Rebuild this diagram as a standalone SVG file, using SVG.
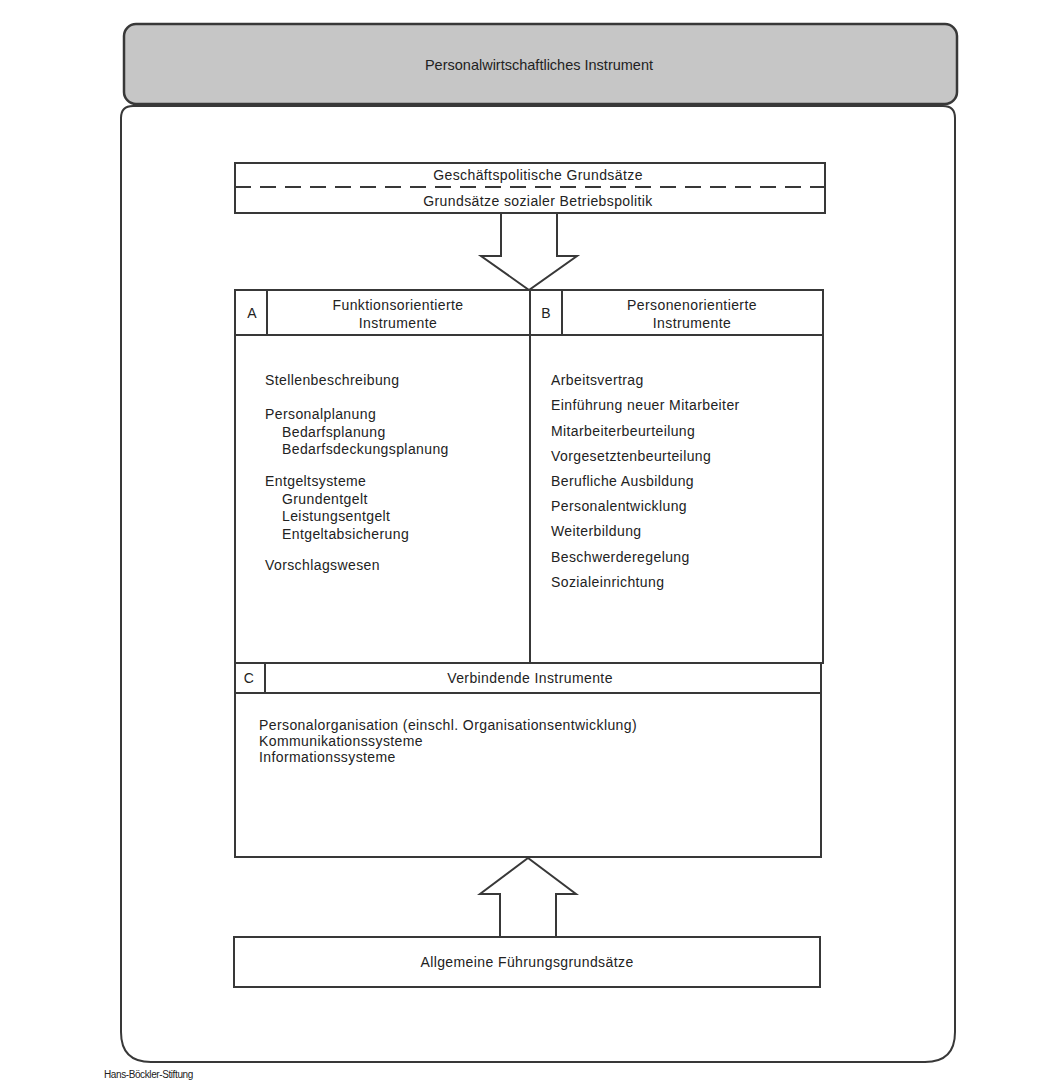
<svg xmlns="http://www.w3.org/2000/svg" width="1054" height="1088" viewBox="0 0 1054 1088">
<style>
.ln{fill:none;stroke:#383838;stroke-width:2}
.bx{fill:#fff;stroke:#383838;stroke-width:2}
.t{font-family:"Liberation Sans",Arial,sans-serif;font-size:14px;fill:#222;letter-spacing:0.4px}
.c{text-anchor:middle}
.h{font-family:"Liberation Sans",Arial,sans-serif;font-size:14.5px;fill:#222;text-anchor:middle}
.f{font-family:"Liberation Sans",Arial,sans-serif;font-size:10px;fill:#222;letter-spacing:-0.4px}
</style>
<rect width="1054" height="1088" fill="#fff"/>
<g id="header">
<rect x="124" y="24" width="833" height="80" rx="12" fill="#c6c6c6" stroke="#383838" stroke-width="2.5"/>
<text class="h" x="539" y="70">Personalwirtschaftliches Instrument</text>
</g>
<g id="frame">
<path d="M121,1032 L121,118 Q121,106 133,106 L943,106 Q955,106 955,118 L955,1032 Q955,1062 925,1062 L151,1062 Q121,1062 121,1032 Z" class="ln" stroke-width="2.5"/>
</g>
<g id="grundsaetze">
<rect x="235" y="163" width="590" height="50" class="bx"/>
<line x1="235" y1="187" x2="825" y2="187" class="ln" stroke-dasharray="16,9"/>
<text class="t c" x="538" y="180">Geschäftspolitische Grundsätze</text>
<text class="t c" x="538" y="206">Grundsätze sozialer Betriebspolitik</text>
</g>
<g id="connectors">
<path d="M501,213 L501,256 L481,256 L529,290 L577,256 L557,256 L557,213" class="ln"/>
<path d="M500,937 L500,894 L480,894 L528,858 L576,894 L556,894 L556,937" class="ln"/>
</g>
<g id="ab">
<rect x="235" y="290" width="588" height="373" class="bx"/>
<line x1="235" y1="335" x2="823" y2="335" class="ln"/>
<line x1="267" y1="290" x2="267" y2="335" class="ln"/>
<line x1="530" y1="290" x2="530" y2="663" class="ln"/>
<line x1="562" y1="290" x2="562" y2="335" class="ln"/>
<text class="t c" x="252" y="318">A</text>
<text class="t c" x="398" y="310">Funktionsorientierte</text>
<text class="t c" x="398" y="328">Instrumente</text>
<text class="t c" x="546" y="318">B</text>
<text class="t c" x="692" y="310">Personenorientierte</text>
<text class="t c" x="692" y="328">Instrumente</text>
<text class="t" x="265" y="385">Stellenbeschreibung</text>
<text class="t" x="265" y="419">Personalplanung</text>
<text class="t" x="282" y="436.5">Bedarfsplanung</text>
<text class="t" x="282" y="454">Bedarfsdeckungsplanung</text>
<text class="t" x="265" y="486">Entgeltsysteme</text>
<text class="t" x="282" y="503.5">Grundentgelt</text>
<text class="t" x="282" y="521">Leistungsentgelt</text>
<text class="t" x="282" y="538.5">Entgeltabsicherung</text>
<text class="t" x="265" y="570">Vorschlagswesen</text>
<text class="t" x="551" y="385">Arbeitsvertrag</text>
<text class="t" x="551" y="410">Einführung neuer Mitarbeiter</text>
<text class="t" x="551" y="435.5">Mitarbeiterbeurteilung</text>
<text class="t" x="551" y="460.5">Vorgesetztenbeurteilung</text>
<text class="t" x="551" y="486">Berufliche Ausbildung</text>
<text class="t" x="551" y="511">Personalentwicklung</text>
<text class="t" x="551" y="536">Weiterbildung</text>
<text class="t" x="551" y="561.5">Beschwerderegelung</text>
<text class="t" x="551" y="586.5">Sozialeinrichtung</text>
</g>
<g id="c">
<rect x="235" y="663" width="586" height="194" class="bx"/>
<line x1="235" y1="693" x2="821" y2="693" class="ln"/>
<line x1="265" y1="663" x2="265" y2="693" class="ln"/>
<text class="t c" x="249" y="683">C</text>
<text class="t c" x="530" y="683">Verbindende Instrumente</text>
<text class="t" x="259" y="730">Personalorganisation (einschl. Organisationsentwicklung)</text>
<text class="t" x="259" y="746">Kommunikationssysteme</text>
<text class="t" x="259" y="762">Informationssysteme</text>
</g>
<g id="fuehrung">
<rect x="234" y="937" width="586" height="50" class="bx"/>
<text class="t c" x="527" y="967">Allgemeine Führungsgrundsätze</text>
</g>
<g id="footer">
<text class="f" x="104" y="1078">Hans-Böckler-Stiftung</text>
</g>
</svg>
